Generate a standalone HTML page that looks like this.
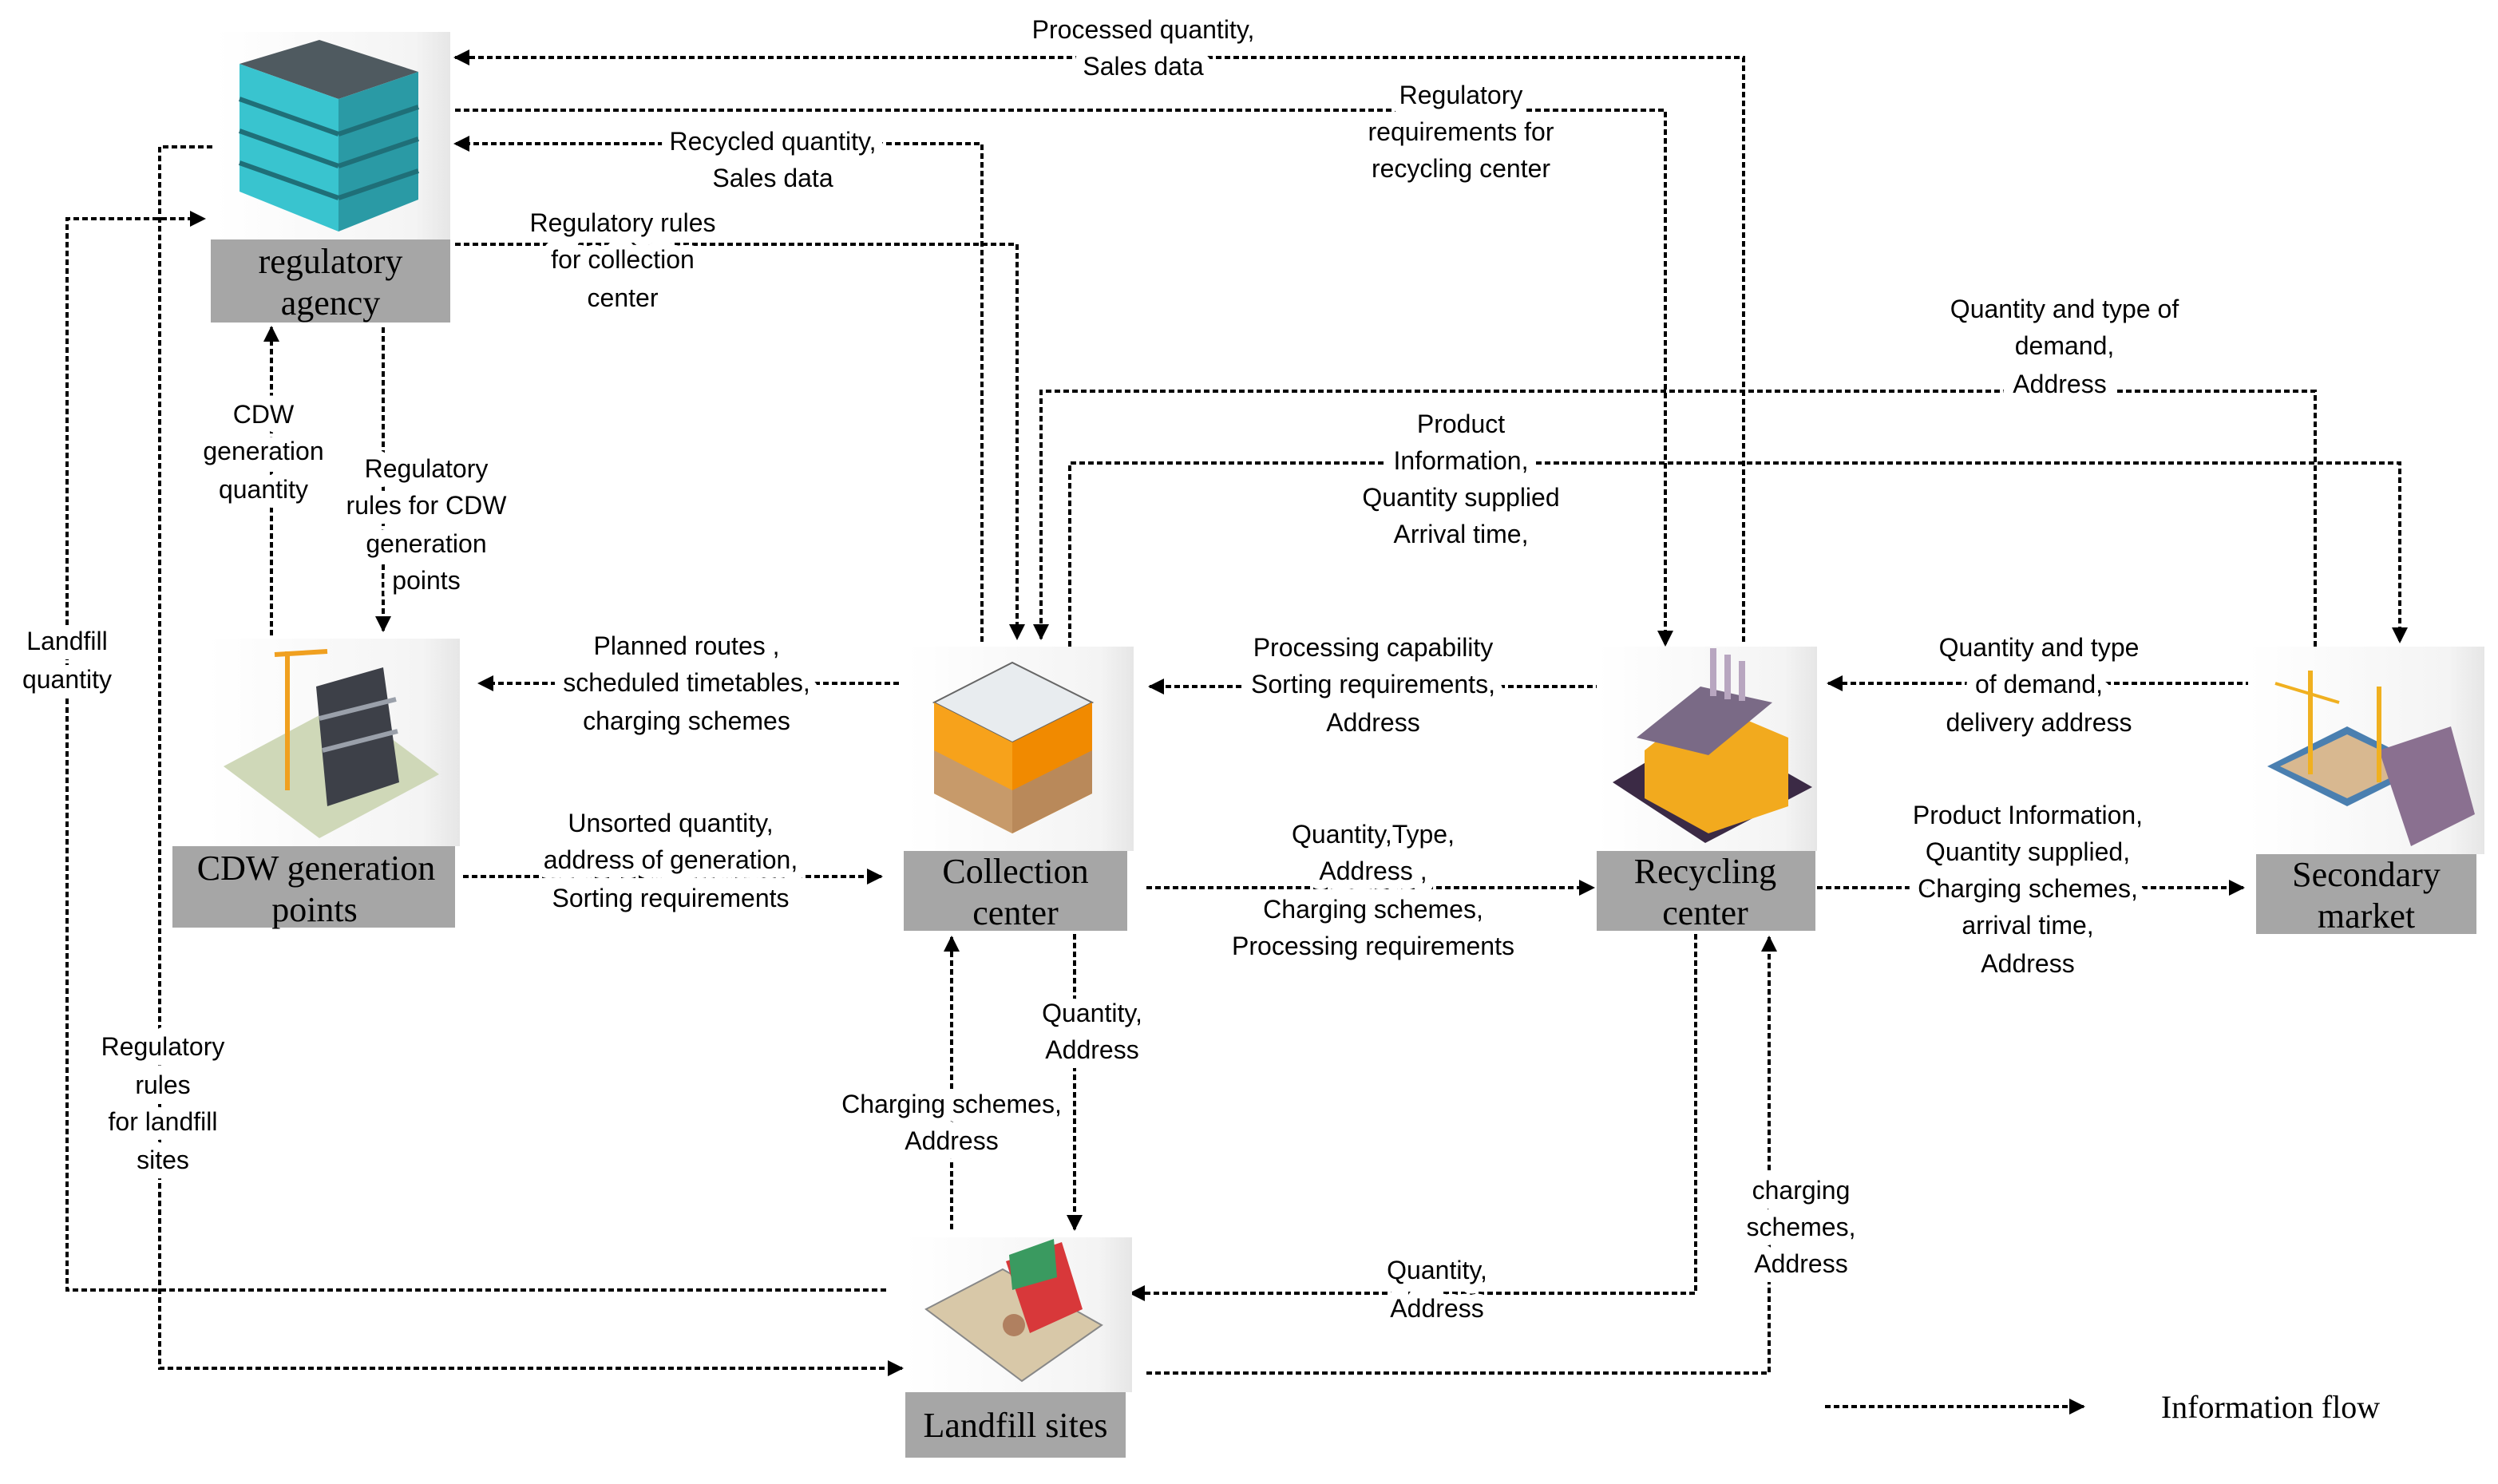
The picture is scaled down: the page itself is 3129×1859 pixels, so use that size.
<!DOCTYPE html>
<html><head><meta charset="utf-8"><style>
html,body{margin:0;padding:0;background:#fff}
svg{display:block}
.n{font-family:"Liberation Serif",serif;font-size:22px;text-anchor:middle;fill:#000}
.l{fill:none;stroke:#000;stroke-width:2;stroke-dasharray:3.5 2}
.lb{fill:#a6a6a6}
</style></head><body>
<svg width="3129" height="1859" viewBox="0 0 1564.5 929.5" xmlns="http://www.w3.org/2000/svg" xmlns:xlink="http://www.w3.org/1999/xlink">
<defs>
<marker id="a" markerWidth="10" markerHeight="10" refX="9" refY="5" orient="auto" markerUnits="userSpaceOnUse" viewBox="0 0 10 10"><path d="M0,0 L10,5 L0,10 z" fill="#000"/></marker>
<linearGradient id="bg" x1="0" y1="0" x2="1" y2="0"><stop offset="0" stop-color="#fff"/><stop offset="0.85" stop-color="#f4f4f4"/><stop offset="1" stop-color="#e6e6e6"/></linearGradient>
<g id="lbl" font-family="Liberation Sans, sans-serif" font-size="16" text-anchor="middle">
<text x="716" y="24">Processed quantity,</text><text x="716" y="47">Sales data</text>
<text x="915" y="65">Regulatory</text><text x="915" y="88">requirements for</text><text x="915" y="111">recycling center</text>
<text x="484" y="94">Recycled quantity,</text><text x="484" y="117">Sales data</text>
<text x="390" y="145">Regulatory rules</text><text x="390" y="168">for  collection</text><text x="390" y="192">center</text>
<text x="1293" y="199">Quantity and type of</text><text x="1293" y="222">demand,</text><text x="1290" y="246">Address</text>
<text x="915" y="271">Product</text><text x="915" y="294">Information,</text><text x="915" y="317">Quantity supplied</text><text x="915" y="340">Arrival time,</text>
<text x="165" y="265">CDW</text><text x="165" y="288">generation</text><text x="165" y="312">quantity</text>
<text x="267" y="299">Regulatory</text><text x="267" y="322">rules for  CDW</text><text x="267" y="346">generation</text><text x="267" y="369">points</text>
<text x="42" y="407">Landfill</text><text x="42" y="431">quantity</text>
<text x="102" y="661">Regulatory</text><text x="102" y="685">rules</text><text x="102" y="708">for landfill</text><text x="102" y="732">sites</text>
<text x="430" y="410">Planned routes ,</text><text x="430" y="433">scheduled timetables,</text><text x="430" y="457">charging schemes</text>
<text x="420" y="521">Unsorted  quantity,</text><text x="420" y="544">address of generation,</text><text x="420" y="568">Sorting requirements</text>
<text x="860" y="411">Processing capability</text><text x="860" y="434">Sorting requirements,</text><text x="860" y="458">Address</text>
<text x="860" y="528">Quantity,Type,</text><text x="860" y="551">Address ,</text><text x="860" y="575">Charging schemes,</text><text x="860" y="598">Processing requirements</text>
<text x="1277" y="411">Quantity and type</text><text x="1277" y="434">of demand,</text><text x="1277" y="458">delivery address</text>
<text x="1270" y="516">Product Information,</text><text x="1270" y="539">Quantity supplied,</text><text x="1270" y="562">Charging schemes,</text><text x="1270" y="585">arrival time,</text><text x="1270" y="609">Address</text>
<text x="684" y="640">Quantity,</text><text x="684" y="663">Address</text>
<text x="596" y="697">Charging schemes,</text><text x="596" y="720">Address</text>
<text x="900" y="801">Quantity,</text><text x="900" y="825">Address</text>
<text x="1128" y="751">charging</text><text x="1128" y="774">schemes,</text><text x="1128" y="797">Address</text>
</g>
</defs>
<rect width="1564.5" height="929.5" fill="#fff"/>

<g marker-end="url(#a)">
<path class="l" d="M1092,402 V36 H285"/>
<path class="l" d="M285,69 H1043 V404"/>
<path class="l" d="M615,402 V90 H285"/>
<path class="l" d="M285,153 H637 V400"/>
<path class="l" d="M1450,405 V245 H652 V400"/>
<path class="l" d="M670,405 V290 H1503 V402"/>
<path class="l" d="M170,398 V205"/>
<path class="l" d="M240,205 V395"/>
<path class="l" d="M555,808 H42 V137 H128"/>
<path class="l" d="M133,92 H100 V857 H565"/>
<path class="l" d="M563,428 H300"/>
<path class="l" d="M290,549 H552"/>
<path class="l" d="M1003,430 H720"/>
<path class="l" d="M718,556 H998"/>
<path class="l" d="M1410,428 H1145"/>
<path class="l" d="M1138,556 H1405"/>
<path class="l" d="M673,585 V770"/>
<path class="l" d="M596,770 V587"/>
<path class="l" d="M1062,585 V810 H708"/>
<path class="l" d="M718,860 H1108 V587"/>
<path class="l" d="M1143,881 H1305"/>
</g>

<use xlink:href="#lbl" href="#lbl" fill="#fff" stroke="#fff" stroke-width="12" stroke-linejoin="round"/>
<use xlink:href="#lbl" href="#lbl" fill="#000"/>

<rect x="135" y="20" width="147" height="130" fill="url(#bg)"/>
<polygon points="150,40 200,25 262,45 212,62" fill="#4f5a60"/>
<polygon points="150,40 212,62 212,145 150,120" fill="#39c4cf"/>
<polygon points="212,62 262,45 262,125 212,145" fill="#2a9aa5"/>
<g stroke="#1f6f78" stroke-width="3"><line x1="150" y1="62" x2="212" y2="84"/><line x1="150" y1="82" x2="212" y2="104"/><line x1="150" y1="102" x2="212" y2="124"/><line x1="212" y1="84" x2="262" y2="67"/><line x1="212" y1="104" x2="262" y2="87"/><line x1="212" y1="124" x2="262" y2="107"/></g>
<rect class="lb" x="132" y="150" width="150" height="52"/>
<text class="n" x="207" y="171">regulatory</text><text class="n" x="207" y="197">agency</text>

<rect x="130" y="400" width="158" height="130" fill="url(#bg)"/>
<polygon points="140,480 215,440 275,485 200,525" fill="#cfd8b8"/>
<polygon points="198,430 240,418 250,490 205,505" fill="#3d4048"/>
<g stroke="#9aa0aa" stroke-width="3"><line x1="200" y1="450" x2="248" y2="438"/><line x1="202" y1="470" x2="249" y2="458"/></g>
<line x1="180" y1="408" x2="180" y2="495" stroke="#f0a020" stroke-width="3"/><line x1="172" y1="410" x2="205" y2="408" stroke="#f0a020" stroke-width="3"/>
<rect class="lb" x="108" y="530" width="177" height="51"/>
<text class="n" x="198" y="551">CDW generation</text><text class="n" x="197" y="577">points</text>

<rect x="568" y="405" width="142" height="128" fill="url(#bg)"/>
<polygon points="585,440 634,415 684,440 634,465" fill="#e8ecef" stroke="#666"/>
<polygon points="585,440 634,465 634,522 585,497" fill="#f7a21b"/>
<polygon points="634,465 684,440 684,497 634,522" fill="#f18a00"/>
<polygon points="585,470 634,495 634,522 585,497" fill="#c79a6a"/>
<polygon points="634,495 684,470 684,497 634,522" fill="#b9895a"/>
<rect class="lb" x="566" y="533" width="140" height="50"/>
<text class="n" x="636" y="553">Collection</text><text class="n" x="636" y="579">center</text>

<rect x="1000" y="405" width="138" height="128" fill="url(#bg)"/>
<polygon points="1010,490 1068,455 1135,493 1068,528" fill="#3b2a45"/>
<polygon points="1030,470 1068,440 1120,462 1120,505 1070,522 1030,500" fill="#f2aa1e"/>
<polygon points="1025,462 1065,430 1110,440 1070,473" fill="#7a6a86"/>
<g fill="#b8a6c0"><rect x="1071" y="406" width="4" height="30"/><rect x="1080" y="410" width="4" height="28"/><rect x="1089" y="414" width="4" height="25"/></g>
<rect class="lb" x="1000" y="533" width="137" height="50"/>
<text class="n" x="1068" y="553">Recycling</text><text class="n" x="1068" y="579">center</text>

<rect x="1408" y="405" width="148" height="130" fill="url(#bg)"/>
<polygon points="1420,480 1470,455 1520,480 1470,505" fill="#4a7fb0"/>
<polygon points="1428,480 1470,460 1512,480 1470,500" fill="#d8b890"/>
<polygon points="1490,470 1535,455 1550,510 1510,530" fill="#8a7090"/>
<line x1="1447" y1="420" x2="1447" y2="485" stroke="#f0b020" stroke-width="3"/><line x1="1490" y1="430" x2="1490" y2="490" stroke="#f0b020" stroke-width="3"/>
<line x1="1425" y1="428" x2="1465" y2="440" stroke="#f0b020" stroke-width="2"/>
<rect class="lb" x="1413" y="535" width="138" height="50"/>
<text class="n" x="1482" y="555">Secondary</text><text class="n" x="1482" y="581">market</text>

<rect x="567" y="775" width="142" height="97" fill="url(#bg)"/>
<polygon points="580,820 628,795 690,830 640,865" fill="#d8c8a8" stroke="#888"/>
<polygon points="630,790 665,778 678,820 645,835" fill="#d8383a"/>
<polygon points="632,786 660,776 662,800 634,808" fill="#3a9a60"/>
<circle cx="635" cy="830" r="7" fill="#b08060"/>
<rect class="lb" x="567" y="872" width="138" height="41"/>
<text class="n" x="636" y="900">Landfill sites</text>

<text x="1422" y="888" font-family="Liberation Serif,serif" font-size="20" text-anchor="middle">Information flow</text>
</svg>
</body></html>
